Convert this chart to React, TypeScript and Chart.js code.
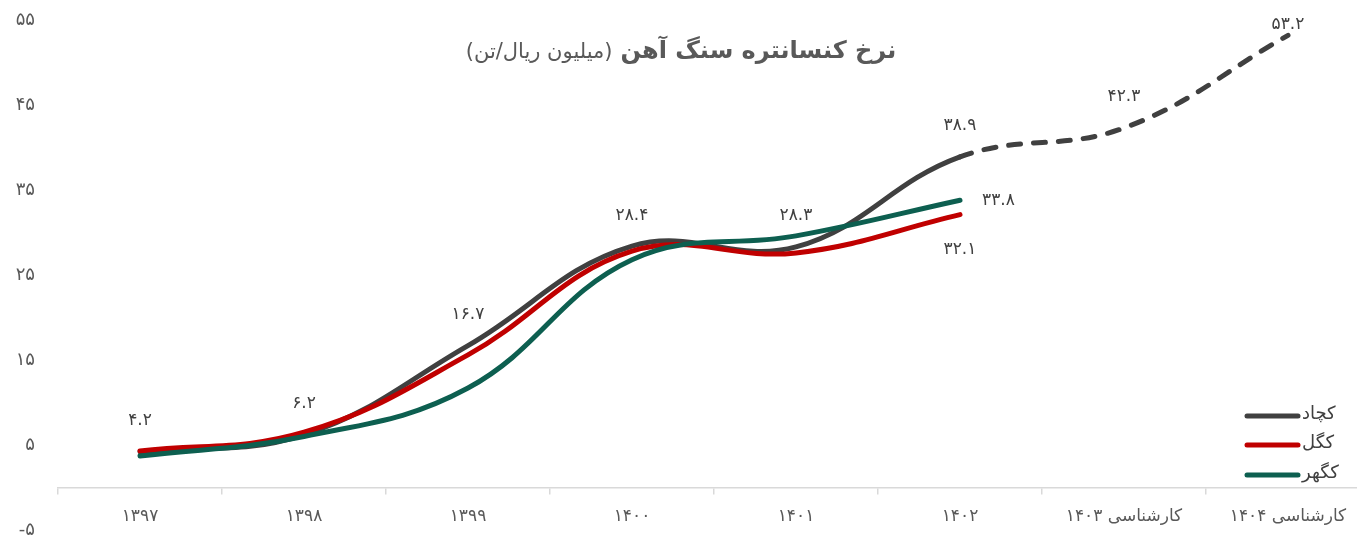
import React, { useEffect, useRef } from 'react';
import { Chart, registerables } from 'chart.js';

Chart.register(...registerables);

const categories = ['۱۳۹۷', '۱۳۹۸', '۱۳۹۹', '۱۴۰۰', '۱۴۰۱', '۱۴۰۲', 'کارشناسی ۱۴۰۳', 'کارشناسی ۱۴۰۴'];
const seriesNames = ['کچاد', 'کگل', 'کگهر'];
const kechadValues = [4.2, 6.2, 16.7, 28.4, 28.3, 38.9, 42.3, 53.2];
const kegolValues = [4.3, 6.5, 15.6, 27.8, 27.6, 32.1, null, null];
const kegoharValues = [3.7, 6.0, 11.7, 26.8, 29.6, 33.8, null, null];
const yMin = -5;
const yMax = 55;
const yStep = 10;
const titleBold = 'نرخ کنسانتره سنگ آهن';
const titleNormal = '(میلیون ریال/تن)';

const colors = ['#404040', '#C00000', '#0D5F50'];
const FONT = '"DejaVu Sans", sans-serif';

const toFa = (s: string | number) => String(s).replace(/\d/g, (d) => '۰۱۲۳۴۵۶۷۸۹'[+d]);

const overlayPlugin = {
  id: 'overlay',
  afterDatasetsDraw(chart: any) {
    const ctx = chart.ctx;
    const area = chart.chartArea;
    ctx.save();
    ctx.font = `17px ${FONT}`;
    ctx.fillStyle = '#404040';
    ctx.textAlign = 'center';
    ctx.textBaseline = 'middle';
    const m0 = chart.getDatasetMeta(0);
    m0.data.forEach((pt: any, i: number) => {
      const y = Math.max(pt.y - 31, area.top + 5);
      ctx.fillText(toFa(kechadValues[i].toFixed(1)), pt.x, y);
    });
    const m1 = chart.getDatasetMeta(1);
    const lastRed = kegolValues.filter((v) => v !== null).length - 1;
    const pr = m1.data[lastRed];
    ctx.fillText(toFa((kegolValues[lastRed] as number).toFixed(1)), pr.x, pr.y + 35);
    const m2 = chart.getDatasetMeta(2);
    const lastGreen = kegoharValues.filter((v) => v !== null).length - 1;
    const pg = m2.data[lastGreen];
    ctx.textAlign = 'left';
    ctx.fillText(toFa((kegoharValues[lastGreen] as number).toFixed(1)), pg.x + 22, pg.y);
    ctx.restore();
  },
  afterDraw(chart: any) {
    const ctx = chart.ctx;
    ctx.save();
    ctx.textBaseline = 'middle';
    ctx.fillStyle = '#595959';
    ctx.direction = 'rtl';
    ctx.textAlign = 'right';
    const fb = `bold 24px ${FONT}`;
    const fn = `21px ${FONT}`;
    ctx.font = fb;
    const wb = ctx.measureText(titleBold).width;
    ctx.font = fn;
    const wn = ctx.measureText(titleNormal).width;
    const gap = 8;
    const total = wb + gap + wn;
    const right = 681 + total / 2;
    ctx.font = fb;
    ctx.fillText(titleBold, right, 52);
    ctx.font = fn;
    ctx.fillText(titleNormal, right - wb - gap, 53);
    const ys = [416, 445, 475];
    seriesNames.forEach((name, i) => {
      ctx.strokeStyle = colors[i];
      ctx.lineWidth = 5;
      ctx.lineCap = 'round';
      ctx.beginPath();
      ctx.moveTo(1247, ys[i]);
      ctx.lineTo(1298, ys[i]);
      ctx.stroke();
      ctx.fillStyle = '#404040';
      ctx.font = `18px ${FONT}`;
      ctx.direction = 'rtl';
      ctx.textAlign = 'left';
      ctx.fillText(name, 1302, ys[i] - 2);
    });
    ctx.restore();
  },
};

export default function App() {
  const ref = useRef<HTMLCanvasElement | null>(null);
  useEffect(() => {
    if (!ref.current) return;
    const mk = (label: string, data: (number | null)[], color: string, order: number, dashedFrom?: number) => ({
      label,
      data,
      borderColor: color,
      backgroundColor: color,
      borderWidth: 5,
      borderCapStyle: 'round',
      borderJoinStyle: 'round',
      pointRadius: 0,
      pointHoverRadius: 0,
      tension: 0.4,
      fill: false,
      order,
      segment: dashedFrom !== undefined
        ? { borderDash: (c: any) => (c.p0DataIndex >= dashedFrom ? [12, 13] : undefined) }
        : undefined,
    });
    const chart = new Chart(ref.current, {
      type: 'line',
      data: {
        labels: categories,
        datasets: [
          mk(seriesNames[0], kechadValues, colors[0], 3, 5),
          mk(seriesNames[1], kegolValues, colors[1], 2),
          mk(seriesNames[2], kegoharValues, colors[2], 1),
        ] as any,
      },
      options: {
        animation: false,
        responsive: true,
        maintainAspectRatio: false,
        layout: { padding: { left: 0, right: 2, top: 20, bottom: 6 } },
        plugins: { legend: { display: false }, tooltip: { enabled: false }, title: { display: false } },
        scales: {
          x: {
            type: 'category',
            position: { y: 0 } as any,
            offset: true,
            afterFit: (s: any) => { s.height = 0; },
            grid: { display: true, drawOnChartArea: false, drawTicks: true, tickLength: 6, color: '#d9d9d9', offset: true, lineWidth: 1.5 },
            border: { display: true, color: '#d9d9d9', width: 1.5 },
            ticks: { padding: 13, color: '#595959', font: { family: FONT, size: 17 }, maxRotation: 0, autoSkip: false },
          },
          y: {
            min: yMin,
            max: yMax,
            afterFit: (s: any) => { s.width = 58; },
            ticks: { stepSize: yStep, padding: 0, color: '#595959', font: { family: FONT, size: 18, lineHeight: 0.6 }, callback: (v: any) => toFa(v) },
            grid: { display: true, drawOnChartArea: false, drawTicks: true, tickLength: 23, color: 'rgba(0,0,0,0)' },
            border: { display: false },
          },
        },
      } as any,
      plugins: [overlayPlugin],
    });
    return () => chart.destroy();
  }, []);
  return (
    <div style={{ position: 'fixed', left: 0, top: 0, width: 1357, height: 536, overflow: 'hidden', background: '#ffffff' }}>
      <div style={{ position: 'relative', width: 1372, height: 536 }}>
        <canvas ref={ref} />
      </div>
    </div>
  );
}
